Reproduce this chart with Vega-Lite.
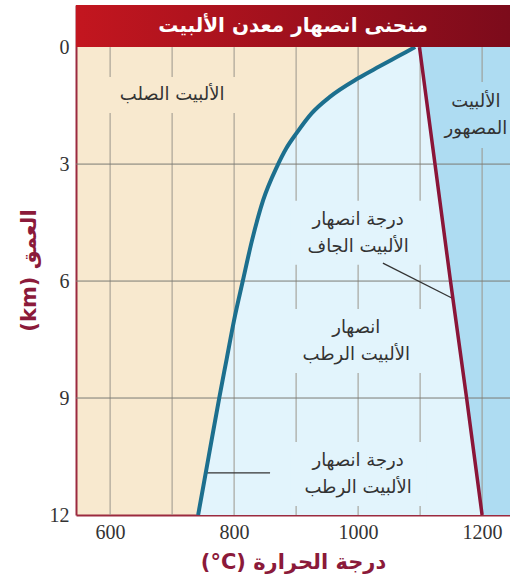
{
  "$schema": "https://vega.github.io/schema/vega-lite/v6.json",
  "autosize": "none",
  "padding": {"left": 76, "top": 5, "right": 0, "bottom": 73},
  "width": 434,
  "height": 510,
  "config": {"view": {"stroke": null, "fill": "#f8e9cf"}},
  "datasets": {
    "wet": [
      {"T": 1092, "d": 0}, {"T": 1063, "d": 0.25}, {"T": 1034, "d": 0.5}, {"T": 1000, "d": 0.8},
      {"T": 955, "d": 1.27}, {"T": 925, "d": 1.7}, {"T": 901, "d": 2.2}, {"T": 884, "d": 2.6},
      {"T": 869, "d": 3.07}, {"T": 847, "d": 3.92}, {"T": 829, "d": 4.95}, {"T": 814, "d": 6},
      {"T": 800, "d": 7}, {"T": 788, "d": 8}, {"T": 776, "d": 9}, {"T": 759, "d": 10.5}, {"T": 742, "d": 12}
    ],
    "dry": [
      {"T": 1099, "d": 0}, {"T": 1124, "d": 3}, {"T": 1149, "d": 6}, {"T": 1175, "d": 9}, {"T": 1200, "d": 12}
    ],
    "vgrid": [{"T": 600}, {"T": 700}, {"T": 800}, {"T": 900}, {"T": 1000}, {"T": 1100}, {"T": 1200}],
    "hgrid": [{"d": 3}, {"d": 6}, {"d": 9}],
    "labels": [
      {"T": 700, "d": 1.23, "label": "الألبيت الصلب", "r": "solid"},
      {"T": 1190, "d": 1.74, "label": "الألبيت\nالمصهور", "r": "melt"},
      {"T": 1000, "d": 4.76, "label": "درجة انصهار\nالألبيت الجاف", "r": "mid"},
      {"T": 997, "d": 7.54, "label": "انصهار\nالألبيت الرطب", "r": "mid"},
      {"T": 1000, "d": 10.95, "label": "درجة انصهار\nالألبيت الرطب", "r": "mid"}
    ],
    "leaders": [
      {"T": 1040, "d": 5.54, "g": "dry"}, {"T": 1152, "d": 6.44, "g": "dry"},
      {"T": 755, "d": 10.92, "g": "wet"}, {"T": 858, "d": 10.92, "g": "wet"}
    ],
    "title": [{"T": 895, "d": -0.55, "label": "منحنى انصهار معدن الألبيت"}]
  },
  "layer": [
    {
      "data": {"name": "wet"},
      "mark": {"type": "area", "orient": "horizontal", "color": "#e2f4fc", "interpolate": "monotone"},
      "encoding": {
        "y": {
          "field": "d", "type": "quantitative",
          "scale": {"domain": [-1.08, 12], "reverse": true, "nice": false, "zero": false},
          "axis": {
            "values": [0, 3, 6, 9, 12], "grid": false, "ticks": false,
            "domainColor": "#9b2a3f", "domainWidth": 2,
            "labelFont": "Liberation Serif", "labelFontSize": 20, "labelColor": "#333333", "labelPadding": 7,
            "title": "(km) العمق", "titleFont": "DejaVu Sans", "titleFontSize": 21, "titleFontWeight": "bold",
            "titleColor": "#8b1a3a", "titlePadding": 10, "titleY": 265
          }
        },
        "x": {
          "field": "T", "type": "quantitative",
          "scale": {"domain": [545, 1245], "nice": false, "zero": false},
          "axis": {
            "values": [600, 800, 1000, 1200], "format": "d", "grid": false, "ticks": false,
            "domainColor": "#9b2a3f", "domainWidth": 2,
            "labelFont": "Liberation Serif", "labelFontSize": 20, "labelColor": "#333333", "labelPadding": 7,
            "title": "(°C) درجة الحرارة", "titleFont": "DejaVu Sans", "titleFontSize": 21, "titleFontWeight": "bold",
            "titleColor": "#8b1a3a", "titlePadding": 9
          }
        },
        "x2": {"datum": 1245}
      }
    },
    {
      "data": {"name": "dry"},
      "mark": {"type": "area", "orient": "horizontal", "color": "#aedcf2"},
      "encoding": {
        "y": {"field": "d", "type": "quantitative"},
        "x": {"field": "T", "type": "quantitative"},
        "x2": {"datum": 1245}
      }
    },
    {
      "data": {"name": "vgrid"},
      "mark": {"type": "rule", "color": "#9a968c", "strokeWidth": 1},
      "encoding": {
        "x": {"field": "T", "type": "quantitative"},
        "y": {"datum": 0},
        "y2": {"datum": 12}
      }
    },
    {
      "data": {"name": "hgrid"},
      "mark": {"type": "rule", "color": "#7a7a74", "strokeWidth": 1},
      "encoding": {
        "y": {"field": "d", "type": "quantitative"}
      }
    },
    {
      "data": {"name": "labels"},
      "transform": [{"filter": "datum.r === 'solid'"}],
      "mark": {"type": "rect", "width": 140, "height": 36, "color": "#f8e9cf"},
      "encoding": {
        "x": {"field": "T", "type": "quantitative"},
        "y": {"field": "d", "type": "quantitative"}
      }
    },
    {
      "data": {"name": "labels"},
      "transform": [{"filter": "datum.r === 'melt'"}],
      "mark": {"type": "rect", "width": 50, "height": 66, "color": "#aedcf2"},
      "encoding": {
        "x": {"field": "T", "type": "quantitative"},
        "y": {"field": "d", "type": "quantitative"}
      }
    },
    {
      "data": {"name": "labels"},
      "transform": [{"filter": "datum.r === 'mid'"}],
      "mark": {"type": "rect", "width": 136, "height": 64, "color": "#e2f4fc"},
      "encoding": {
        "x": {"field": "T", "type": "quantitative"},
        "y": {"field": "d", "type": "quantitative"}
      }
    },
    {
      "data": {"name": "leaders"},
      "mark": {"type": "line", "color": "#333333", "strokeWidth": 1.3},
      "encoding": {
        "x": {"field": "T", "type": "quantitative"},
        "y": {"field": "d", "type": "quantitative"},
        "detail": {"field": "g"}
      }
    },
    {
      "data": {"name": "wet"},
      "mark": {"type": "line", "orient": "horizontal", "color": "#1c6f8e", "strokeWidth": 4, "interpolate": "monotone"},
      "encoding": {
        "x": {"field": "T", "type": "quantitative"},
        "y": {"field": "d", "type": "quantitative"},
        "order": {"field": "d"}
      }
    },
    {
      "data": {"name": "dry"},
      "mark": {"type": "line", "color": "#8a1538", "strokeWidth": 3.5},
      "encoding": {
        "x": {"field": "T", "type": "quantitative"},
        "y": {"field": "d", "type": "quantitative"},
        "order": {"field": "d"}
      }
    },
    {
      "data": {"name": "title"},
      "mark": {
        "type": "rect",
        "color": {
          "gradient": "linear", "x1": 0, "x2": 1, "y1": 0, "y2": 0,
          "stops": [{"offset": 0, "color": "#c3161f"}, {"offset": 1, "color": "#7c0b1b"}]
        }
      },
      "encoding": {
        "x": {"datum": 545},
        "x2": {"datum": 1245},
        "y": {"datum": -1.08},
        "y2": {"datum": 0}
      }
    },
    {
      "data": {"name": "title"},
      "mark": {"type": "text", "color": "white", "font": "DejaVu Sans", "fontSize": 20, "fontWeight": "bold", "align": "center", "baseline": "middle"},
      "encoding": {
        "x": {"field": "T", "type": "quantitative"},
        "y": {"field": "d", "type": "quantitative"},
        "text": {"field": "label"}
      }
    },
    {
      "data": {"name": "labels"},
      "transform": [{"filter": "datum.r === 'solid'"}],
      "mark": {"type": "text", "color": "#333333", "font": "DejaVu Sans", "fontSize": 18, "align": "center", "baseline": "middle"},
      "encoding": {
        "x": {"field": "T", "type": "quantitative"},
        "y": {"field": "d", "type": "quantitative"},
        "text": {"field": "label"}
      }
    },
    {
      "data": {"name": "labels"},
      "transform": [{"filter": "datum.r !== 'solid'"}],
      "mark": {"type": "text", "color": "#333333", "font": "DejaVu Sans", "fontSize": 18, "lineBreak": "\n", "lineHeight": 27, "dy": -13, "align": "center", "baseline": "middle"},
      "encoding": {
        "x": {"field": "T", "type": "quantitative"},
        "y": {"field": "d", "type": "quantitative"},
        "text": {"field": "label"}
      }
    }
  ]
}
